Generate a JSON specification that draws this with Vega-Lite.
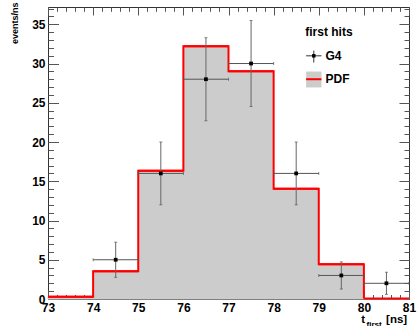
{
  "$schema": "https://vega.github.io/schema/vega-lite/v6.json",
  "width": 361,
  "height": 292,
  "autosize": {"type": "none"},
  "padding": {"left": 48, "top": 7, "right": 8, "bottom": 27},
  "background": "white",
  "config": {
    "view": {"stroke": "#333333", "strokeWidth": 1},
    "font": "Liberation Sans",
    "axis": {
      "domain": false,
      "grid": false,
      "labels": false,
      "ticks": true,
      "tickColor": "#555555",
      "tickWidth": 1,
      "zindex": 1,
      "labelFont": "Liberation Sans",
      "labelFontWeight": "bold",
      "labelFontSize": 12,
      "labelColor": "#000000",
      "labelOverlap": false,
      "labelFlush": false,
      "titleFont": "Liberation Sans",
      "titleFontWeight": "bold",
      "titleColor": "#000000",
      "titleFontSize": 11.5
    }
  },
  "datasets": {
    "bins": [
      {"lo": 73, "hi": 74, "pdf": 0.3},
      {"lo": 74, "hi": 75, "pdf": 3.55},
      {"lo": 75, "hi": 76, "pdf": 16.35},
      {"lo": 76, "hi": 77, "pdf": 32.2},
      {"lo": 77, "hi": 78, "pdf": 29.0},
      {"lo": 78, "hi": 79, "pdf": 14.05},
      {"lo": 79, "hi": 80, "pdf": 4.43},
      {"lo": 80, "hi": 81, "pdf": 0.05}
    ],
    "hits": [
      {"t": 74.5, "tlo": 74, "thi": 75, "n": 5, "lo": 2.76, "hi": 7.24},
      {"t": 75.5, "tlo": 75, "thi": 76, "n": 16, "lo": 12.0, "hi": 20.0},
      {"t": 76.5, "tlo": 76, "thi": 77, "n": 28, "lo": 22.71, "hi": 33.29},
      {"t": 77.5, "tlo": 77, "thi": 78, "n": 30, "lo": 24.52, "hi": 35.48},
      {"t": 78.5, "tlo": 78, "thi": 79, "n": 16, "lo": 12.0, "hi": 20.0},
      {"t": 79.5, "tlo": 79, "thi": 80, "n": 3, "lo": 1.27, "hi": 4.73},
      {"t": 80.5, "tlo": 80, "thi": 81, "n": 2, "lo": 0.59, "hi": 3.41}
    ]
  },
  "resolve": {"axis": {"x": "independent", "y": "independent"}},
  "layer": [
    {
      "data": {"name": "bins"},
      "mark": {"type": "rect", "fill": "#cccccc", "stroke": "#cccccc", "strokeWidth": 1},
      "encoding": {
        "x": {
          "field": "lo", "type": "quantitative",
          "scale": {"domain": [73, 81], "nice": false, "zero": false},
          "axis": {
            "orient": "bottom", "values": [73, 74, 75, 76, 77, 78, 79, 80, 81],
            "labels": true, "ticks": false, "labelPadding": 3,
            "title": "[ns]", "titleX": 358.7, "titleY": 23.5,
            "titleAlign": "right", "titleBaseline": "alphabetic", "titleAngle": 0
          }
        },
        "x2": {"field": "hi"},
        "y": {
          "field": "pdf", "type": "quantitative",
          "scale": {"domain": [0, 37.2], "nice": false, "zero": false},
          "axis": {
            "orient": "left", "values": [0, 5, 10, 15, 20, 25, 30, 35],
            "labels": true, "ticks": false, "labelPadding": 3,
            "title": "events/ns", "titleX": -34, "titleY": -5, "titleAngle": -90,
            "titleAlign": "right", "titleBaseline": "middle", "titleFontSize": 9
          }
        },
        "y2": {"datum": 0}
      }
    },
    {
      "data": {"name": "bins"},
      "mark": {"type": "line", "interpolate": "step-after", "color": "#ff0000", "strokeWidth": 2},
      "encoding": {
        "x": {
          "field": "lo", "type": "quantitative",
          "scale": {"domain": [73, 81], "nice": false, "zero": false},
          "axis": {
            "orient": "bottom", "values": [73, 74, 75, 76, 77, 78, 79, 80, 81],
            "tickSize": -9,
            "title": "t", "titleX": 312.7, "titleY": 23.5,
            "titleAlign": "left", "titleBaseline": "alphabetic", "titleAngle": 0
          }
        },
        "y": {
          "field": "pdf", "type": "quantitative",
          "scale": {"domain": [0, 37.2], "nice": false, "zero": false},
          "axis": {"orient": "left", "values": [0, 5, 10, 15, 20, 25, 30, 35], "tickSize": -10.5, "title": null}
        }
      }
    },
    {
      "data": {"name": "bins"},
      "mark": {"type": "rule", "color": "#ff0000", "strokeWidth": 2},
      "encoding": {
        "x": {
          "field": "lo", "type": "quantitative",
          "scale": {"domain": [73, 81], "nice": false, "zero": false},
          "axis": {
            "orient": "bottom",
            "values": [73, 73.2, 73.4, 73.6, 73.8, 74, 74.2, 74.4, 74.6, 74.8, 75, 75.2, 75.4, 75.6, 75.8, 76, 76.2, 76.4, 76.6, 76.8, 77, 77.2, 77.4, 77.6, 77.8, 78, 78.2, 78.4, 78.6, 78.8, 79, 79.2, 79.4, 79.6, 79.8, 80, 80.2, 80.4, 80.6, 80.8, 81],
            "tickSize": -4.5,
            "title": "first", "titleX": 318, "titleY": 27, "titleFontSize": 8,
            "titleAlign": "left", "titleBaseline": "alphabetic", "titleAngle": 0
          }
        },
        "x2": {"field": "hi"},
        "y": {
          "field": "pdf", "type": "quantitative",
          "scale": {"domain": [0, 37.2], "nice": false, "zero": false},
          "axis": {
            "orient": "left",
            "values": [0, 1, 2, 3, 4, 5, 6, 7, 8, 9, 10, 11, 12, 13, 14, 15, 16, 17, 18, 19, 20, 21, 22, 23, 24, 25, 26, 27, 28, 29, 30, 31, 32, 33, 34, 35, 36, 37],
            "tickSize": -5.5, "title": null
          }
        }
      }
    },
    {
      "data": {"name": "hits"},
      "mark": {"type": "rule", "color": "#555555", "strokeWidth": 1},
      "encoding": {
        "x": {
          "field": "tlo", "type": "quantitative",
          "scale": {"domain": [73, 81], "nice": false, "zero": false},
          "axis": {"orient": "top", "values": [73, 74, 75, 76, 77, 78, 79, 80, 81], "tickSize": -8, "title": null}
        },
        "x2": {"field": "thi"},
        "y": {
          "field": "n", "type": "quantitative",
          "scale": {"domain": [0, 37.2], "nice": false, "zero": false},
          "axis": {"orient": "right", "values": [0, 5, 10, 15, 20, 25, 30, 35], "tickSize": -10, "title": null}
        }
      }
    },
    {
      "data": {"name": "hits"},
      "mark": {"type": "rule", "color": "#666666", "strokeWidth": 1},
      "encoding": {
        "x": {
          "field": "t", "type": "quantitative",
          "scale": {"domain": [73, 81], "nice": false, "zero": false},
          "axis": {
            "orient": "top",
            "values": [73, 73.2, 73.4, 73.6, 73.8, 74, 74.2, 74.4, 74.6, 74.8, 75, 75.2, 75.4, 75.6, 75.8, 76, 76.2, 76.4, 76.6, 76.8, 77, 77.2, 77.4, 77.6, 77.8, 78, 78.2, 78.4, 78.6, 78.8, 79, 79.2, 79.4, 79.6, 79.8, 80, 80.2, 80.4, 80.6, 80.8, 81],
            "tickSize": -4.3, "title": null
          }
        },
        "y": {
          "field": "lo", "type": "quantitative",
          "scale": {"domain": [0, 37.2], "nice": false, "zero": false},
          "axis": {
            "orient": "right",
            "values": [0, 1, 2, 3, 4, 5, 6, 7, 8, 9, 10, 11, 12, 13, 14, 15, 16, 17, 18, 19, 20, 21, 22, 23, 24, 25, 26, 27, 28, 29, 30, 31, 32, 33, 34, 35, 36, 37],
            "tickSize": -5, "title": null
          }
        },
        "y2": {"field": "hi"}
      }
    },
    {
      "data": {"name": "hits"},
      "mark": {"type": "tick", "orient": "vertical", "size": 3, "thickness": 1, "color": "#555555"},
      "encoding": {
        "x": {"field": "tlo", "type": "quantitative", "scale": {"domain": [73, 81], "nice": false, "zero": false}, "axis": null},
        "y": {"field": "n", "type": "quantitative", "scale": {"domain": [0, 37.2], "nice": false, "zero": false}, "axis": null}
      }
    },
    {
      "data": {"name": "hits"},
      "mark": {"type": "tick", "orient": "vertical", "size": 3, "thickness": 1, "color": "#555555"},
      "encoding": {
        "x": {"field": "thi", "type": "quantitative", "scale": {"domain": [73, 81], "nice": false, "zero": false}, "axis": null},
        "y": {"field": "n", "type": "quantitative", "scale": {"domain": [0, 37.2], "nice": false, "zero": false}, "axis": null}
      }
    },
    {
      "data": {"name": "hits"},
      "mark": {"type": "tick", "orient": "horizontal", "size": 3, "thickness": 1, "color": "#555555"},
      "encoding": {
        "x": {"field": "t", "type": "quantitative", "scale": {"domain": [73, 81], "nice": false, "zero": false}, "axis": null},
        "y": {"field": "lo", "type": "quantitative", "scale": {"domain": [0, 37.2], "nice": false, "zero": false}, "axis": null}
      }
    },
    {
      "data": {"name": "hits"},
      "mark": {"type": "tick", "orient": "horizontal", "size": 3, "thickness": 1, "color": "#555555"},
      "encoding": {
        "x": {"field": "t", "type": "quantitative", "scale": {"domain": [73, 81], "nice": false, "zero": false}, "axis": null},
        "y": {"field": "hi", "type": "quantitative", "scale": {"domain": [0, 37.2], "nice": false, "zero": false}, "axis": null}
      }
    },
    {
      "data": {"name": "hits"},
      "mark": {"type": "point", "shape": "square", "filled": true, "color": "#000000", "size": 14, "opacity": 1},
      "encoding": {
        "x": {"field": "t", "type": "quantitative", "scale": {"domain": [73, 81], "nice": false, "zero": false}, "axis": null},
        "y": {"field": "n", "type": "quantitative", "scale": {"domain": [0, 37.2], "nice": false, "zero": false}, "axis": null}
      }
    },
    {
      "data": {"values": [{"label": "first hits"}]},
      "mark": {"type": "text", "align": "left", "baseline": "alphabetic", "fontSize": 12, "fontWeight": "bold", "font": "Liberation Sans", "color": "#000000"},
      "encoding": {
        "x": {"datum": 78.7, "scale": {"domain": [73, 81], "nice": false, "zero": false}, "axis": null},
        "y": {"datum": 33.46, "scale": {"domain": [0, 37.2], "nice": false, "zero": false}, "axis": null},
        "text": {"field": "label"}
      }
    },
    {
      "data": {"values": [{"label": "G4"}]},
      "mark": {"type": "rule", "color": "#333333", "strokeWidth": 1},
      "encoding": {
        "x": {"datum": 78.72, "scale": {"domain": [73, 81], "nice": false, "zero": false}, "axis": null},
        "x2": {"datum": 79.06},
        "y": {"datum": 30.98, "scale": {"domain": [0, 37.2], "nice": false, "zero": false}, "axis": null}
      }
    },
    {
      "data": {"values": [{"label": "G4"}]},
      "mark": {"type": "rule", "color": "#333333", "strokeWidth": 1},
      "encoding": {
        "x": {"datum": 78.89, "scale": {"domain": [73, 81], "nice": false, "zero": false}, "axis": null},
        "y": {"datum": 31.65, "scale": {"domain": [0, 37.2], "nice": false, "zero": false}, "axis": null},
        "y2": {"datum": 30.13}
      }
    },
    {
      "data": {"values": [{"label": "G4"}]},
      "mark": {"type": "point", "shape": "square", "filled": true, "color": "#000000", "size": 12, "opacity": 1},
      "encoding": {
        "x": {"datum": 78.89, "scale": {"domain": [73, 81], "nice": false, "zero": false}, "axis": null},
        "y": {"datum": 30.98, "scale": {"domain": [0, 37.2], "nice": false, "zero": false}, "axis": null}
      }
    },
    {
      "data": {"values": [{"label": "G4"}]},
      "mark": {"type": "text", "align": "left", "baseline": "middle", "fontSize": 12, "fontWeight": "bold", "font": "Liberation Sans", "color": "#000000"},
      "encoding": {
        "x": {"datum": 79.15, "scale": {"domain": [73, 81], "nice": false, "zero": false}, "axis": null},
        "y": {"datum": 30.98, "scale": {"domain": [0, 37.2], "nice": false, "zero": false}, "axis": null},
        "text": {"field": "label"}
      }
    },
    {
      "data": {"values": [{"label": "PDF"}]},
      "mark": {"type": "rect", "fill": "#cccccc"},
      "encoding": {
        "x": {"datum": 78.72, "scale": {"domain": [73, 81], "nice": false, "zero": false}, "axis": null},
        "x2": {"datum": 79.06},
        "y": {"datum": 26.95, "scale": {"domain": [0, 37.2], "nice": false, "zero": false}, "axis": null},
        "y2": {"datum": 28.98}
      }
    },
    {
      "data": {"values": [{"label": "PDF"}]},
      "mark": {"type": "rule", "color": "#ff0000", "strokeWidth": 2},
      "encoding": {
        "x": {"datum": 78.72, "scale": {"domain": [73, 81], "nice": false, "zero": false}, "axis": null},
        "x2": {"datum": 79.06},
        "y": {"datum": 28.0, "scale": {"domain": [0, 37.2], "nice": false, "zero": false}, "axis": null}
      }
    },
    {
      "data": {"values": [{"label": "PDF"}]},
      "mark": {"type": "text", "align": "left", "baseline": "middle", "fontSize": 12, "fontWeight": "bold", "font": "Liberation Sans", "color": "#000000"},
      "encoding": {
        "x": {"datum": 79.15, "scale": {"domain": [73, 81], "nice": false, "zero": false}, "axis": null},
        "y": {"datum": 28.0, "scale": {"domain": [0, 37.2], "nice": false, "zero": false}, "axis": null},
        "text": {"field": "label"}
      }
    }
  ]
}
